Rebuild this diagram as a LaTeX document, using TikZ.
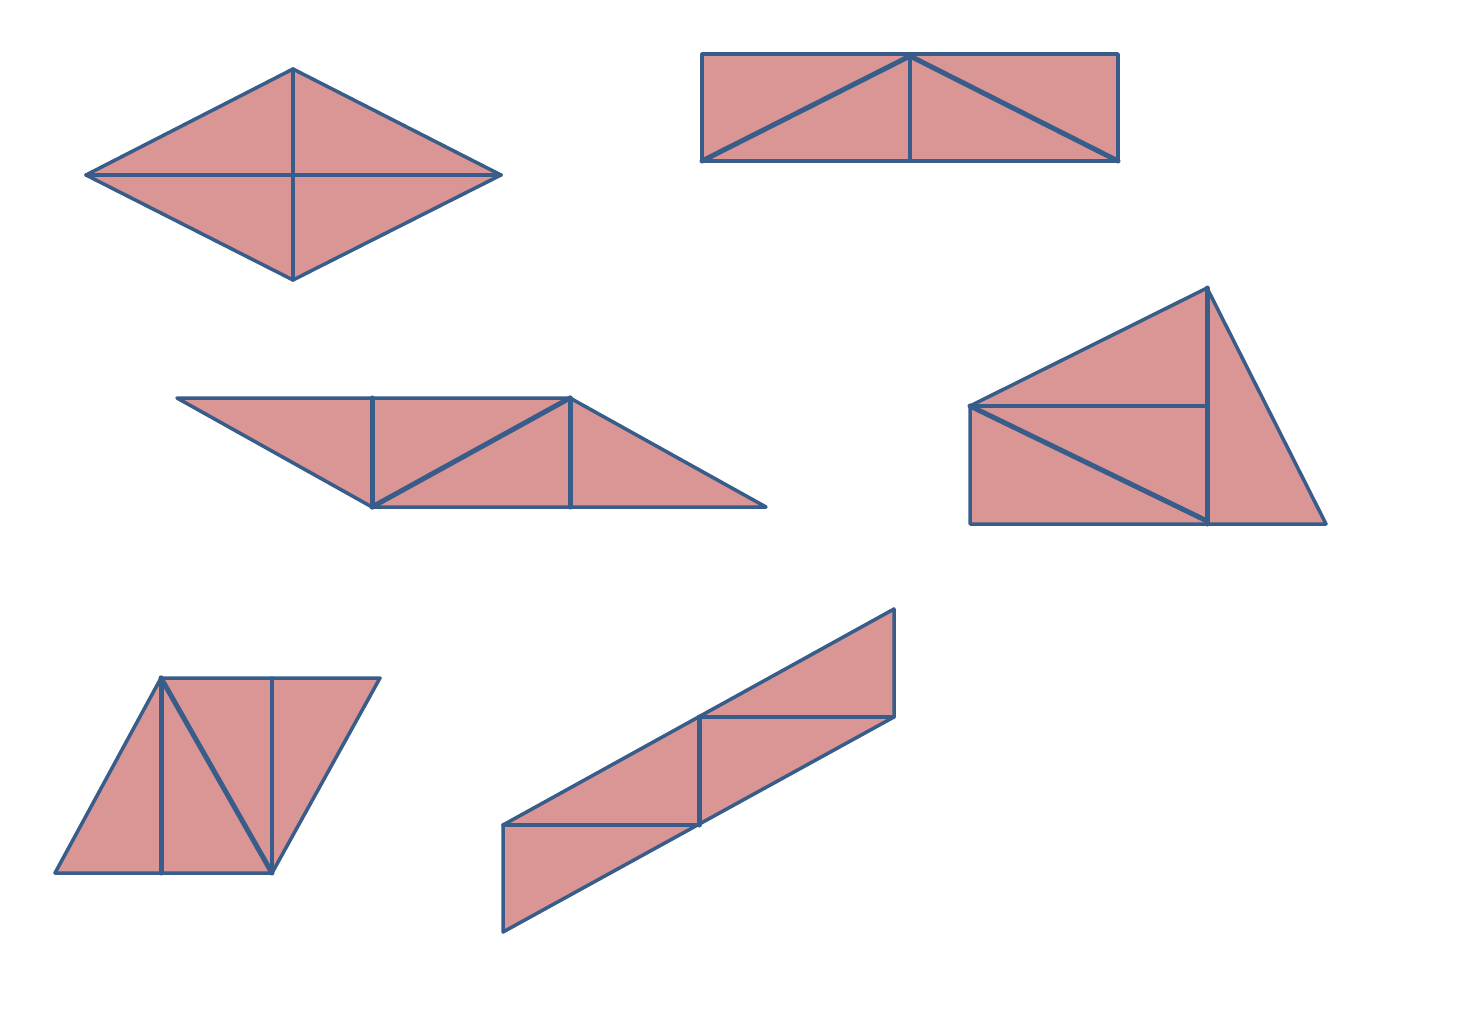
\documentclass[tikz,border=0pt]{standalone}
\definecolor{fillc}{HTML}{D99694}
\definecolor{linec}{HTML}{385D8A}
\tikzset{
  piece/.style={fill=fillc, draw=linec, line width=3.5pt, line join=round},
  seg/.style={draw=linec, line width=3.5pt, line cap=round},
  thick seg/.style={draw=linec, line width=5pt, line cap=round}
}
\begin{document}
\begin{tikzpicture}[x=1pt,y=-1pt]
\useasboundingbox (0,0) rectangle (1480,1022);
% 1 rhombus
\coordinate (a1) at (86,175); \coordinate (a2) at (293,69);
\coordinate (a3) at (501,175); \coordinate (a4) at (293,280);
\draw[piece] (a1) -- (a2) -- (a3) -- (a4) -- cycle;
\draw[seg] (a1) -- (a3);
\draw[seg] (a2) -- (a4);
% 2 rectangle
\coordinate (b1) at (702,54); \coordinate (b2) at (1118,54);
\coordinate (b3) at (1118,161); \coordinate (b4) at (702,161);
\coordinate (bt) at (910,56); \coordinate (bb) at (910,161);
\draw[piece] (b1) -- (b2) -- (b3) -- (b4) -- cycle;
\draw[seg] (bt) -- (bb);
\draw[thick seg] (b4) -- (bt) -- (b3);
% 3 parallelogram
\coordinate (c1) at (177,398); \coordinate (c2) at (570,398);
\coordinate (c3) at (766,507); \coordinate (c4) at (372,507);
\coordinate (c5) at (372,398); \coordinate (c6) at (570,507);
\draw[piece] (c1) -- (c2) -- (c3) -- (c4) -- cycle;
\draw[thick seg] (c5) -- (c4);
\draw[thick seg] (c2) -- (c6);
\draw[thick seg] (c4) -- (c2);
% 4 right shape
\coordinate (d1) at (970,406); \coordinate (d2) at (1207,288);
\coordinate (d3) at (1326,524); \coordinate (d4) at (970,524);
\coordinate (d5) at (1207,524); \coordinate (d6) at (1207,406);
\coordinate (d7) at (1207,521);
\draw[piece] (d1) -- (d2) -- (d3) -- (d4) -- cycle;
\draw[thick seg] (d2) -- (d5);
\draw[seg] (d1) -- (d6);
\draw[thick seg] (d1) -- (d7);
% 5 bottom-left
\coordinate (e1) at (55,873); \coordinate (e2) at (161,678);
\coordinate (e3) at (380,678); \coordinate (e4) at (272,873);
\coordinate (e5) at (161,873); \coordinate (e6) at (272,678);
\draw[piece] (e1) -- (e2) -- (e3) -- (e4) -- cycle;
\draw[thick seg] (e2) -- (e5);
\draw[seg] (e6) -- (e4);
\draw[thick seg] (e2) -- (e4);
% 6 bottom-middle
\coordinate (f1) at (503,825); \coordinate (f2) at (894,609);
\coordinate (f3) at (894,717); \coordinate (f4) at (503,932);
\coordinate (f5) at (699,717); \coordinate (f6) at (699,825);
\draw[piece] (f1) -- (f2) -- (f3) -- (f4) -- cycle;
\draw[seg] (f5) -- (f3);
\draw[thick seg] (f5) -- (f6);
\draw[seg] (f1) -- (f6);
\end{tikzpicture}
\end{document}
